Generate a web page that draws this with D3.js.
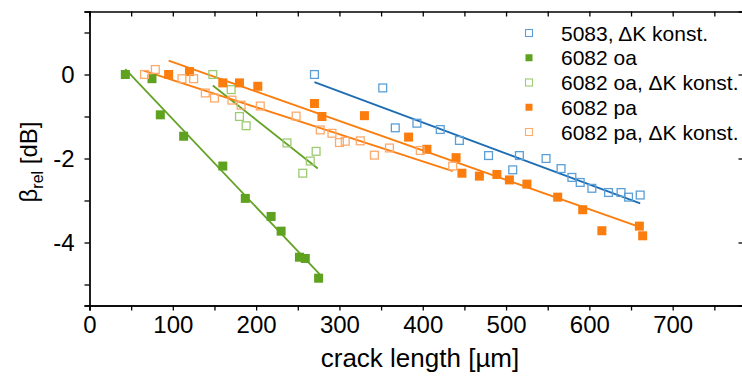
<!DOCTYPE html>
<html>
<head>
<meta charset="utf-8">
<script src="https://cdn.jsdelivr.net/npm/d3@7"></script>
<style>
  html, body { margin: 0; padding: 0; background: #fff; }
  svg { display: block; }
  text { font-family: "Liberation Sans", Arial, sans-serif; fill: #000; }
</style>
</head>
<body>
<svg id="chart" width="742" height="376"></svg>
<script>
// ---- data: crack length [µm] vs. relative nonlinearity parameter [dB] ----
const seriesNames = ["5083, \u0394K konst.", "6082 oa", "6082 oa, \u0394K konst.", "6082 pa", "6082 pa, \u0394K konst."];

const x5083 = [270, 352, 367, 393, 421, 444, 479, 508, 516, 548, 566, 579, 589, 603, 623, 638, 647, 661];
const y5083 = [0.0, -0.32, -1.27, -1.16, -1.31, -1.57, -1.93, -2.27, -1.93, -2.0, -2.24, -2.45, -2.57, -2.71, -2.81, -2.81, -2.92, -2.87];

const xOa = [43, 75, 85, 113, 160, 187, 218, 230, 252, 259, 275];
const yOa = [0.0, -0.10, -0.96, -1.47, -2.18, -2.95, -3.38, -3.73, -4.35, -4.38, -4.85];

const xOaK = [148, 170, 180, 188, 237, 256, 265, 272];
const yOaK = [0.0, -0.36, -1.0, -1.22, -1.63, -2.35, -2.06, -1.83];

const xPa = [95, 120, 160, 180, 202, 270, 279, 330, 383, 405, 440, 447, 468, 489, 504, 525, 562, 592, 615, 660, 664];
const yPa = [0.0, 0.07, -0.2, -0.2, -0.28, -0.69, -1.0, -0.98, -1.49, -1.78, -1.98, -2.35, -2.42, -2.38, -2.51, -2.61, -2.92, -3.22, -3.72, -3.61, -3.84];

const xPaK = [66, 79, 111, 125, 139, 150, 171, 182, 205, 248, 277, 291, 300, 307, 325, 342, 360, 397, 436];
const yPaK = [0.0, 0.12, -0.1, -0.1, -0.44, -0.56, -0.61, -0.73, -0.75, -0.99, -1.32, -1.40, -1.62, -1.59, -1.58, -1.92, -1.75, -1.81, -2.18];

// linear fits: start/end crack length and fitted value
const fit5083 = { x: [270, 661], y: [-0.18, -3.07] };
const fitOa   = { x: [43, 277],  y: [0.13, -4.77] };
const fitOaK  = { x: [148, 274], y: [-0.26, -2.24] };
const fitPa   = { x: [95, 660],  y: [0.33, -3.63] };
const fitPaK  = { x: [65, 436],  y: [0.09, -2.30] };

const xTicks = [0, 100, 200, 300, 400, 500, 600, 700];
const yTicks = [0, -2, -4];

// ---- series styling ----
const series = [
  { name: seriesNames[0], xs: x5083, ys: y5083, fit: fit5083, filled: false, color: "#5b9fd6", line: "#1c6db3" },
  { name: seriesNames[1], xs: xOa,   ys: yOa,   fit: fitOa,   filled: true,  color: "#5ea21f", line: "#62a224" },
  { name: seriesNames[2], xs: xOaK,  ys: yOaK,  fit: fitOaK,  filled: false, color: "#9ccb72", line: "#62a224" },
  { name: seriesNames[3], xs: xPa,   ys: yPa,   fit: fitPa,   filled: true,  color: "#fb7d0e", line: "#fb7d0e" },
  { name: seriesNames[4], xs: xPaK,  ys: yPaK,  fit: fitPaK,  filled: false, color: "#fdaa6a", line: "#fb7d0e" }
];

const svg = d3.select("#chart");
const plotLeft = 89.5, plotRight = 743.5, plotTop = 11.5, plotBottom = 305.5;

const x = d3.scaleLinear().domain([0, 785]).range([plotLeft, plotRight]);
const y = d3.scaleLinear().domain([-5.5, 1.5]).range([plotBottom, plotTop]);

// ---- axes ----
const axisG = svg.append("g");
const styleAxis = g => {
  g.select(".domain").attr("stroke", "#000").attr("stroke-width", 1.3);
  g.selectAll(".tick line").attr("stroke", "#000").attr("stroke-width", 1.3);
  g.selectAll(".tick text").style("font-size", "24px").style("font-family", "Liberation Sans, Arial, sans-serif");
};

const xMinor = d3.range(50, 785, 100);
const yMinor = [1, -1, -3, -5];

// bottom
axisG.append("g").attr("transform", `translate(0,${plotBottom})`)
  .call(d3.axisBottom(x).tickValues(xTicks).tickFormat(d3.format("d")).tickSizeOuter(0).tickSize(5).tickPadding(5))
  .call(styleAxis);
axisG.append("g").attr("transform", `translate(0,${plotBottom})`)
  .call(d3.axisBottom(x).tickValues(xMinor).tickFormat("").tickSizeOuter(0).tickSize(5))
  .call(styleAxis);
// top (inward ticks)
axisG.append("g").attr("transform", `translate(0,${plotTop})`)
  .call(d3.axisTop(x).tickValues(xTicks.concat(xMinor)).tickFormat("").tickSizeOuter(0).tickSize(-5))
  .call(styleAxis);
// left
axisG.append("g").attr("transform", `translate(${plotLeft},0)`)
  .call(d3.axisLeft(y).tickValues(yTicks).tickFormat(d3.format("d")).tickSizeOuter(0).tickSize(5).tickPadding(10))
  .call(styleAxis);
axisG.append("g").attr("transform", `translate(${plotLeft},0)`)
  .call(d3.axisLeft(y).tickValues(yMinor).tickFormat("").tickSizeOuter(0).tickSize(5))
  .call(styleAxis);
// right (inward major ticks only)
axisG.append("g").attr("transform", `translate(${plotRight},0)`)
  .call(d3.axisRight(y).tickValues(yTicks).tickFormat("").tickSizeOuter(0).tickSize(-5))
  .call(styleAxis);

// y tick labels use a hyphen-minus
axisG.selectAll("text").each(function () {
  const t = d3.select(this);
  t.text(t.text().replace("\u2212", "-"));
});

// ---- axis titles ----
svg.append("text")
  .attr("x", 420).attr("y", 367)
  .attr("text-anchor", "middle")
  .style("font-size", "26px")
  .text("crack length [\u00b5m]");

const yTitle = svg.append("text")
  .attr("transform", "translate(37,162) rotate(-90)")
  .attr("text-anchor", "middle")
  .style("font-size", "24px");
yTitle.append("tspan").text("\u03b2");
yTitle.append("tspan").attr("dy", 6).style("font-size", "16px").text("rel");
yTitle.append("tspan").attr("dy", -6).text(" [dB]");

// ---- fit lines ----
const plot = svg.append("g");
const line = d3.line().x(d => x(d[0])).y(d => y(d[1]));
series.forEach(s => {
  plot.append("path")
    .datum(d3.zip(s.fit.x, s.fit.y))
    .attr("d", line)
    .attr("fill", "none")
    .attr("stroke", s.line)
    .attr("stroke-width", 1.8);
});

// ---- markers ----
const mk = 9;
series.forEach(s => {
  const pts = d3.zip(s.xs, s.ys);
  plot.append("g").selectAll("rect").data(pts).join("rect")
    .attr("x", d => x(d[0]) - mk / 2 + (s.filled ? 0 : 0.6))
    .attr("y", d => y(d[1]) - mk / 2 + (s.filled ? 0 : 0.6))
    .attr("width", s.filled ? mk : mk - 1.2)
    .attr("height", s.filled ? mk : mk - 1.2)
    .attr("fill", s.filled ? s.color : "none")
    .attr("stroke", s.color)
    .attr("stroke-width", s.filled ? 0 : 1.3);
});

// ---- legend ----
const legend = svg.append("g");
const legendY = d3.scaleLinear().domain([0, 4]).range([33, 132]);
series.forEach((s, i) => {
  const cy = legendY(i);
  const sz = 7;
  legend.append("rect")
    .attr("x", 529 - sz / 2).attr("y", cy - sz / 2)
    .attr("width", sz).attr("height", sz)
    .attr("fill", s.filled ? s.color : "none")
    .attr("stroke", s.color)
    .attr("stroke-width", s.filled ? 0 : 1.1);
  legend.append("text")
    .attr("x", 561).attr("y", cy + 7.5)
    .style("font-size", "21px")
    .text(s.name);
});
</script>
</body>
</html>
